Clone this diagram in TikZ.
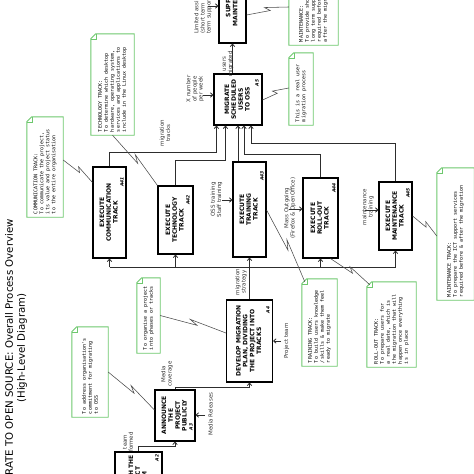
\documentclass[tikz,border=0pt]{standalone}
\usepackage{fontspec}
\setmainfont{DejaVu Sans}
\newfontfamily\monof{DejaVu Sans Mono}
\usepackage{graphicx}
\usetikzlibrary{arrows.meta,calc}
\definecolor{notegreen}{RGB}{110,200,110}
\definecolor{ln}{RGB}{45,45,45}
\newcommand{\rtx}[1]{\rotatebox{90}{\begin{tabular}{@{}c@{}}#1\end{tabular}}}
\newcommand{\ntx}[2]{\rotatebox{90}{\parbox{#1pt}{\raggedright #2}}}
\begin{document}
\begin{tikzpicture}[x=1pt,y=-1pt,
 box/.style={draw=black, line width=1.1pt, fill=white, inner sep=0pt, font=\fontsize{6}{6.8}\selectfont\bfseries},
 note/.style={inner sep=2pt, font=\monof\fontsize{5}{6}\selectfont},
 idl/.style={rotate=90, inner sep=0pt, font=\fontsize{4.5}{5}\selectfont\bfseries\itshape},
 lbl/.style={rotate=90, inner sep=0pt, align=center, text=black!80, font=\fontsize{5.5}{6.2}\selectfont},
 arr/.style={draw=ln, line width=0.8pt, -{Straight Barb[length=2.5pt,width=4.5pt]}},
 ln/.style={draw=ln, line width=0.8pt},
 zz/.style={draw=ln!85, line width=0.55pt, to path={-- ($(\tikztostart)!0.56!(\tikztotarget)$) -- ($(\tikztostart)!0.44!(\tikztotarget)!4pt!90:(\tikztotarget)$) -- (\tikztotarget)}}
]
\useasboundingbox (0,0) rectangle (474,474);
\fill[white] (0,0) rectangle (474,474);

% title
\node[rotate=90, anchor=east, inner sep=0pt, font=\fontsize{10.2}{12}\selectfont] (t1) at (9,219) {MIGRATE TO OPEN SOURCE: Overall Process Overview};
\node[rotate=90, inner sep=0pt, font=\fontsize{10.2}{12}\selectfont] (t2) at (22,348) {(High-Level Diagram)};

% boxes
\node[box, minimum width=47, minimum height=58] (A2) at (138.5,481) {\rtx{ESTABLISH THE\\PROJECT\\TEAM}};
\node[box, minimum width=40, minimum height=51] (A3) at (175,415.5) {\rtx{ANNOUNCE\\THE\\PROJECT\\PUBLICLY}};
\node[box, minimum width=46, minimum height=82] (A4) at (249.5,341) {\rtx{DEVELOP MIGRATION\\PLAN, DIVIDING\\THE PROJECT INTO\\TRACKS}};
\node[box, minimum width=33, minimum height=91] (A41) at (109.5,212.5) {\rtx{EXECUTE\\COMMUNICATION\\TRACK}};
\node[box, minimum width=35, minimum height=68] (A42) at (175.5,220) {\rtx{EXECUTE\\TECHNOLOGY\\TRACK}};
\node[box, minimum width=33, minimum height=95] (A43) at (249.5,209.5) {\rtx{EXECUTE\\TRAINING\\TRACK}};
\node[box, minimum width=35, minimum height=80] (A44) at (320.5,218) {\rtx{EXECUTE\\ROLL-OUT\\TRACK}};
\node[box, minimum width=33, minimum height=68] (A45) at (395.5,216) {\rtx{EXECUTE\\MAINTENANCE\\TRACK}};
\node[box, minimum width=48, minimum height=51] (A5) at (238,99.5) {\rtx{MIGRATE\\SCHEDULED\\USERS\\TO OSS}};
\node[box, minimum width=27, minimum height=83] (A6) at (232.5,1.5) {\rtx{SUPPORT\\MAINTENANCE}};

% box numbers
\node[idl] (l2) at (157,458) {A2};
\node[idl] (l3) at (191,427) {A3};
\node[idl] (l4) at (268,310) {A4};
\node[idl] (l41) at (122,182) {A41};
\node[idl] (l42) at (188,200) {A42};
\node[idl] (l43) at (262,176) {A43};
\node[idl] (l44) at (334,188) {A44};
\node[idl] (l45) at (408,193) {A45};
\node[idl] (l5) at (257,83) {A5};

% notes
\node[note, minimum width=36, minimum height=100] (nComm) at (45,167) {\ntx{94}{COMMUNICATION TRACK:\\To communicate the project,\\its value and project status\\to the entire organisation}};
\node[note, minimum width=43, minimum height=101] (nTech) at (112.5,84.5) {\ntx{95}{TECHNOLOGY TRACK:\\To determine which desktop\\hardware, operating system,\\services and applications to\\include in the Linux desktop}};
\node[note, minimum width=23, minimum height=75] (nOrg) at (148.5,315.5) {\ntx{69}{To organise a project\\into phases or tracks}};
\node[note, minimum width=36, minimum height=90] (nAddr) at (90,372) {\ntx{84}{To address organisation's\\commitment for migrating\\to OSS}};
\node[note, minimum width=35, minimum height=87] (nTrain) at (319.5,322.5) {\ntx{81}{TRAINING TRACK:\\To build users knowledge\\/skills \& make them feel\\ready to migrate}};
\node[note, minimum width=49, minimum height=85] (nRoll) at (391.5,324.5) {\ntx{79}{ROLL-OUT TRACK:\\To prepare users for\\a real date, which is\\the migration that will\\happen once everything\\is in place}};
\node[note, minimum width=37, minimum height=132] (nMaintT) at (455.5,234) {\ntx{126}{MAINTENANCE TRACK:\\To prepare the ICT support services\\required before \& after the migration}};
\node[note, minimum width=24, minimum height=72] (nReal) at (301,89) {\ntx{66}{This is a real user\\migration process}};
\node[note, minimum width=49, minimum height=100] (nMaint) at (313.5,-5) {\ntx{94}{MAINTENANCE:\\To provide short term \&\\long term support services\\required before \&\\after the migration}};
\foreach \nn in {nComm,nTech,nOrg,nAddr,nTrain,nRoll,nMaintT,nReal,nMaint}{
 \draw[notegreen, line width=0.9pt] ([yshift=-5pt]\nn.north west) -- ([xshift=5pt]\nn.north west) -- (\nn.north east) -- (\nn.south east) -- (\nn.south west) -- cycle;
 \draw[notegreen, line width=0.5pt] ([yshift=-5pt]\nn.north west) -- ([xshift=5pt,yshift=-5pt]\nn.north west) -- ([xshift=5pt]\nn.north west);
}

% arrow labels
\node[lbl] (Ltf) at (128,442) {team\\formed};
\node[lbl] (Lmc) at (167,374) {Media\\coverage};
\node[lbl] (Lmr) at (210.5,414) {Media Releases};
\node[lbl] (Lpt) at (286.5,341) {Project team};
\node[lbl] (Lms) at (241,282) {migration\\strategy};
\node[lbl] (Lmt) at (165,133) {migration\\tracks};
\node[lbl] (Lum) at (228,64) {users\\migrated};
\node[lbl] (Lxn) at (195,89) {X number\\of people\\per week};
\node[lbl, anchor=west, align=left] (Lla) at (203,34) {Limited assistance\\(short term \& long\\term support)};
\node[lbl] (Los) at (216.5,199.5) {OSS training\\Staff training};
\node[lbl] (Lmo) at (290,208) {Mass Outgoing\\(Firefox \& OpenOffice)};
\node[lbl] (Lmn) at (368,207) {maintenance\\training};

% coordinates for free ends
\coordinate (bus) at (0,267);
\coordinate (xn) at (203,95);
\coordinate (la) at (208,6);
\coordinate (mr) at (205,415);
\coordinate (pt) at (281,341);
\coordinate (os) at (222,200);
\coordinate (mo) at (289,209);
\coordinate (mt) at (365,210);

% connectors
\draw[arr] (A2.north) -- ++(0,-5) -| (A3.south);
\draw[arr] (A3.north) -- ++(0,-2) -| (A4.south);
\draw[arr] (mr) -- (A3.east |- mr);
\draw[arr] (pt) -- (A4.east |- pt);
\draw[arr] (A4.north) -- (A43.south);
\draw[ln] (A41.south |- bus) -- (A45.south |- bus);
\foreach \b in {A41,A42,A44,A45} \draw[arr] (\b.south |- bus) -- (\b.south);
\draw[arr] (os) -- (A43.west |- os);
\draw[arr] (mo) -- (A44.west |- mo);
\draw[arr] (mt) -- (A45.west |- mt);
\draw[arr] (A41.north) -- (A41.north |- 0,152) -| ($(A5.south west)+(3,0)$);
\draw[arr] (A42.north) -- (A42.north |- 0,160) -| ($(A5.south west)+(12,0)$);
\draw[arr] (A43.north -| 238,0) -- (A5.south -| 238,0);
\draw[arr] (A44.north) -- (A44.north |- 0,154) -| ($(A5.south)+(6,0)$);
\draw[arr] (A45.north) -- (A45.north |- 0,143) -| ($(A5.south)+(13,0)$);
\draw[arr] (xn) -- (A5.west |- xn);
\draw[arr] (A5.north -| A6.south) -- (A6.south);
\draw[arr] (la) -- (A6.west |- la);

% note connectors
\draw[zz] (nComm.east |- 0,160) to ($(A41.north west)+(0,16)$);
\draw[zz] (nTech.south) to (A42.north west);
\draw[zz] (nOrg.east) to (A4.west |- 0,333);
\draw[zz] (nAddr.east) to (A3.west |- 0,410);
\draw[zz] (A43.east |- 0,210) to ($(nTrain.north west)+(3,3)$);
\draw[zz] ($(A44.south east)+(-8,0)$) to ($(nRoll.north west)+(3,3)$);
\draw[zz] (A45.east) to (nMaintT.west |- 0,236);
\draw[zz] (A5.east |- 0,100) to (nReal.west |- 0,88);
\draw[zz] (A6.east |- 0,15) to (nMaint.west |- 0,7);
\end{tikzpicture}
\end{document}
